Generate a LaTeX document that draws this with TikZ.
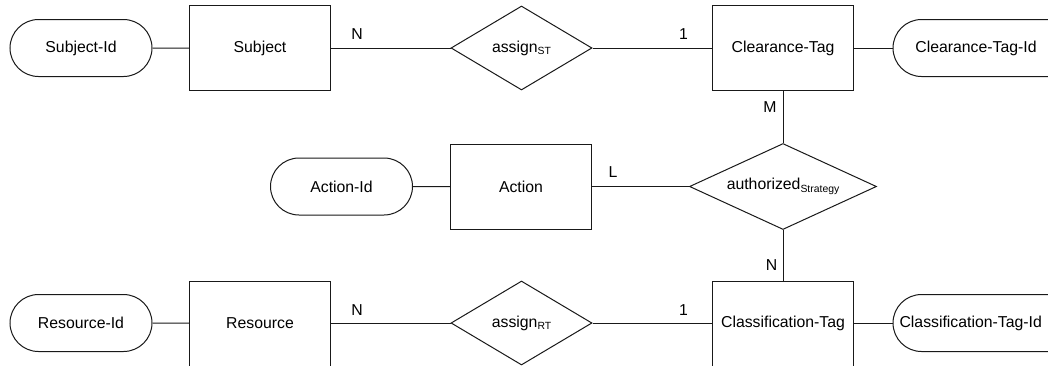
\documentclass[tikz,border=0pt]{standalone}
\usepackage{fontspec}
\setmainfont{Liberation Sans}
\usetikzlibrary{shapes.geometric,shapes.misc}
\newcommand{\subtxt}[1]{\raisebox{-0.28ex}{\fontsize{7.8}{9}\selectfont #1}}
\tikzset{
  base/.style={font=\fontsize{11.85}{14}\selectfont, inner sep=0pt, draw=black!90, line width=0.75pt},
  entity/.style={base, rectangle, minimum width=106pt, minimum height=63.75pt},
  attrib/.style={base, rounded rectangle, minimum width=106.5pt, minimum height=42.75pt},
  wideattrib/.style={base, rounded rectangle, minimum width=142.5pt, minimum height=42.75pt},
  relation/.style={base, diamond, shape aspect=1.68, minimum width=105.75pt, minimum height=63pt},
  widerelation/.style={base, diamond, shape aspect=2.17, minimum width=140.25pt, minimum height=64.5pt},
  card/.style={font=\fontsize{11.85}{14}\selectfont, inner sep=0pt},
  link/.style={draw=black!90, line width=0.75pt}
}
\begin{document}
\begin{tikzpicture}[x=0.75pt, y=-0.75pt]
\clip (0,0) rectangle (1048,365);
\fill[white] (0,0) rectangle (1048,365);
% row 1
\node[attrib] (subjid) at (81,48) {Subject-Id};
\node[entity] (subj) at (260,48) {Subject};
\node[relation] (assignst) at (521.5,48) {assign\subtxt{ST}};
\node[entity] (ctag) at (783,48) {Clearance-Tag};
\node[wideattrib, label={[card, xshift=-9pt]center:Clearance-Tag-Id}] (ctagid) at (988,48) {};
% row 2
\node[attrib] (actid) at (341.5,186.5) {Action-Id};
\node[entity] (act) at (521,186.5) {Action};
\node[widerelation] (auth) at (783,186.5) {authorized\subtxt{Strategy}};
% row 3
\node[attrib] (resid) at (81,323) {Resource-Id};
\node[entity] (res) at (260,323.5) {Resource};
\node[relation] (assignrt) at (521.5,323) {assign\subtxt{RT}};
\node[entity] (cltag) at (783,323.5) {Classification-Tag};
\node[wideattrib, label={[card, xshift=-13pt]center:Classification-Tag-Id}] (cltagid) at (988,323) {};
% connectors
\draw[link] (subjid) -- (subj);
\draw[link] (subj) -- (assignst);
\draw[link] (assignst) -- (ctag);
\draw[link] (ctag) -- (ctagid);
\draw[link] (ctag.south) -- (auth.north);
\draw[link] (actid) -- (act);
\draw[link] (act.east) -- (auth.west);
\draw[link] (auth.south) -- (cltag.north);
\draw[link] (resid) -- (resid -| res.west);
\draw[link] (res.east |- assignrt) -- (assignrt);
\draw[link] (assignrt) -- (assignrt -| cltag.west);
\draw[link] (cltagid -| cltag.east) -- (cltagid);
% cardinalities
\node[card] (c1) at (357,34) {N};
\node[card] (c2) at (683.5,34) {1};
\node[card] (c3) at (770,107.5) {M};
\node[card] (c4) at (613,172) {L};
\node[card] (c5) at (771.5,265) {N};
\node[card] (c6) at (357,310) {N};
\node[card] (c7) at (683.5,310) {1};
\end{tikzpicture}
\end{document}
